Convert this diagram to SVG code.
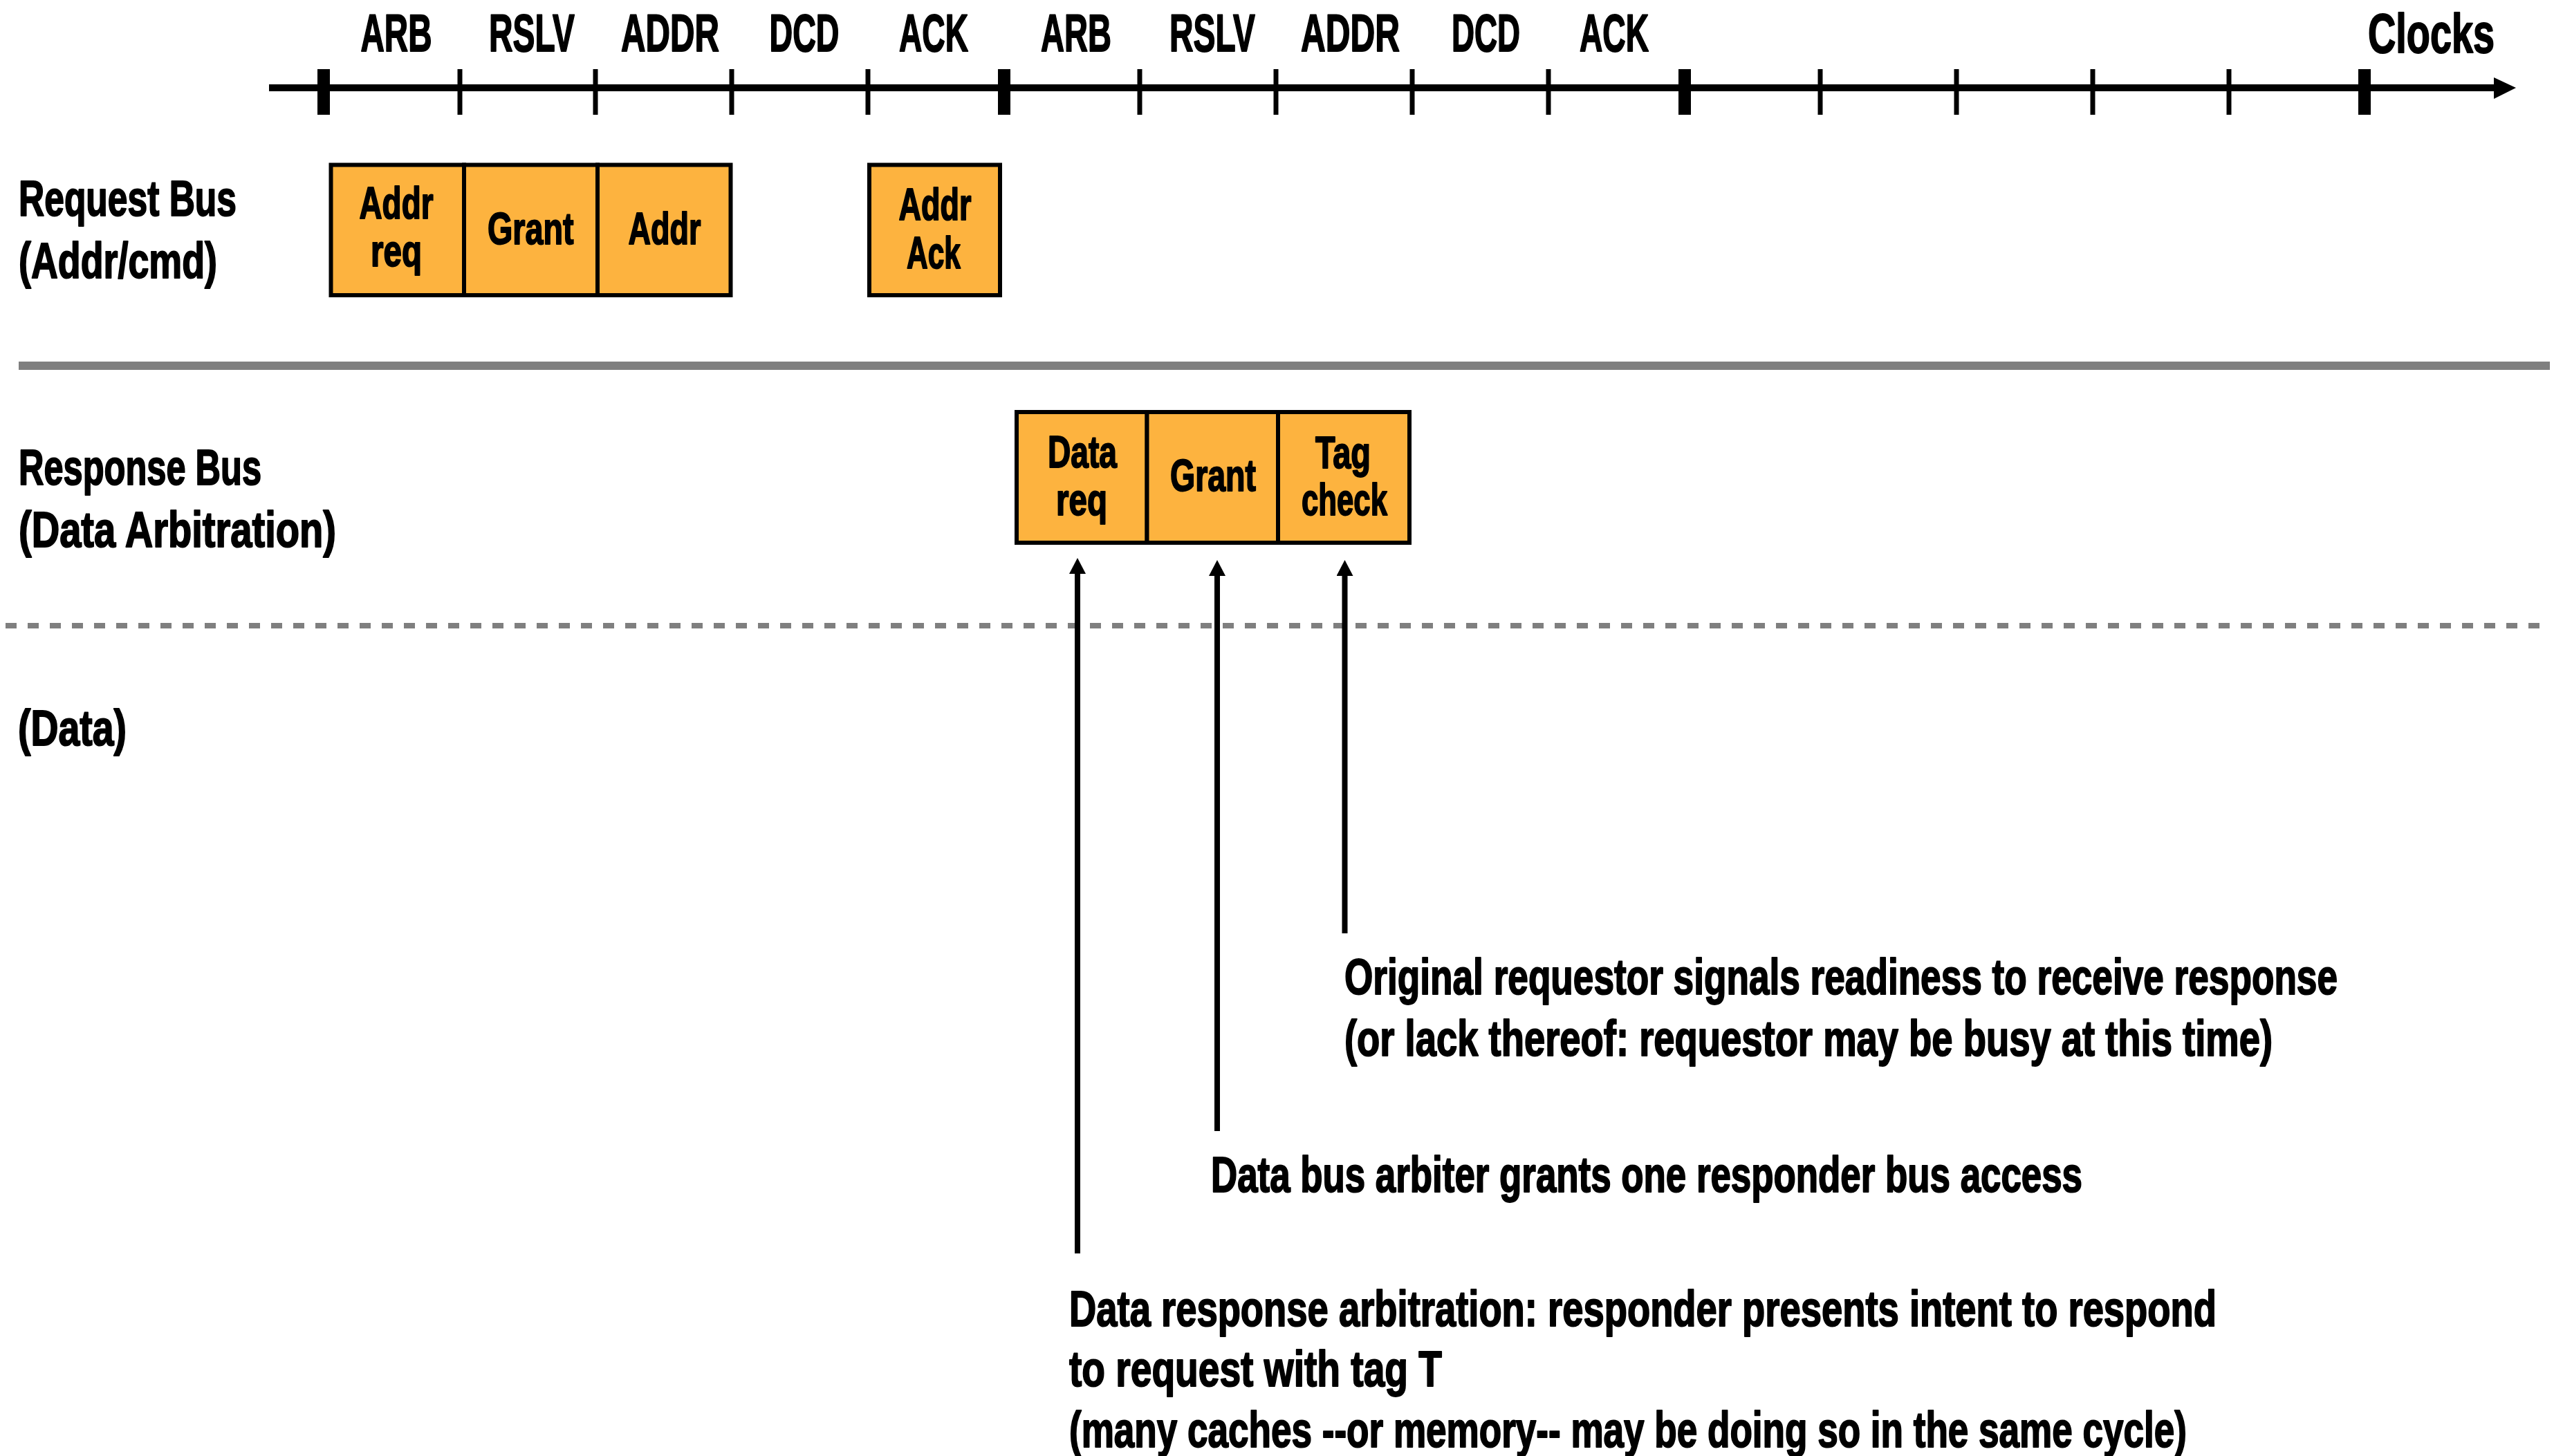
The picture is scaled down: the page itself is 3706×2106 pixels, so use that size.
<svg xmlns="http://www.w3.org/2000/svg" width="3706" height="2106" viewBox="0 0 3706 2106">
<style>
text{font-family:"Liberation Sans Narrow","Liberation Sans",Arial,sans-serif;font-weight:700;fill:#000;stroke:#000;stroke-width:2;stroke-linejoin:round}
.lbl{font-size:76px}
.side{font-size:72px}
.box{font-size:64px}
.note{font-size:72px}
.cell{fill:#FDB33F;stroke:#000;stroke-width:6}
.tick{stroke:#000;stroke-width:7}
.tickb{stroke:#000;stroke-width:18}
.conn{stroke:#000;stroke-width:8;fill:none}
</style>
<defs>
<marker id="ah" markerUnits="userSpaceOnUse" markerWidth="24" markerHeight="24" viewBox="0 0 23 24" refX="0" refY="12" orient="auto">
<path d="M0,0 L23,12 L0,24 z" fill="#000"/>
</marker>
</defs>
<rect width="3706" height="2106" fill="#fff"/>

<g id="timeline">
<line x1="389" y1="127" x2="3610" y2="127" stroke="#000" stroke-width="10"/>
<polygon points="3606,112 3638,127 3606,143" fill="#000"/>
<line class="tickb" x1="468" y1="100" x2="468" y2="166"/>
<line class="tick" x1="665" y1="100" x2="665" y2="166"/>
<line class="tick" x1="861" y1="100" x2="861" y2="166"/>
<line class="tick" x1="1058" y1="100" x2="1058" y2="166"/>
<line class="tick" x1="1255" y1="100" x2="1255" y2="166"/>
<line class="tickb" x1="1452" y1="100" x2="1452" y2="166"/>
<line class="tick" x1="1648" y1="100" x2="1648" y2="166"/>
<line class="tick" x1="1845" y1="100" x2="1845" y2="166"/>
<line class="tick" x1="2042" y1="100" x2="2042" y2="166"/>
<line class="tick" x1="2239" y1="100" x2="2239" y2="166"/>
<line class="tickb" x1="2436" y1="100" x2="2436" y2="166"/>
<line class="tick" x1="2632" y1="100" x2="2632" y2="166"/>
<line class="tick" x1="2829" y1="100" x2="2829" y2="166"/>
<line class="tick" x1="3026" y1="100" x2="3026" y2="166"/>
<line class="tick" x1="3223" y1="100" x2="3223" y2="166"/>
<line class="tickb" x1="3419" y1="100" x2="3419" y2="166"/>
<text class="lbl" x="521.5" y="74" textLength="103" lengthAdjust="spacingAndGlyphs">ARB</text>
<text class="lbl" x="707" y="74" textLength="124" lengthAdjust="spacingAndGlyphs">RSLV</text>
<text class="lbl" x="898" y="74" textLength="142" lengthAdjust="spacingAndGlyphs">ADDR</text>
<text class="lbl" x="1112.5" y="74" textLength="101" lengthAdjust="spacingAndGlyphs">DCD</text>
<text class="lbl" x="1300" y="74" textLength="100" lengthAdjust="spacingAndGlyphs">ACK</text>
<text class="lbl" x="1505" y="74" textLength="102" lengthAdjust="spacingAndGlyphs">ARB</text>
<text class="lbl" x="1691" y="74" textLength="124" lengthAdjust="spacingAndGlyphs">RSLV</text>
<text class="lbl" x="1881" y="74" textLength="143" lengthAdjust="spacingAndGlyphs">ADDR</text>
<text class="lbl" x="2099" y="74" textLength="99" lengthAdjust="spacingAndGlyphs">DCD</text>
<text class="lbl" x="2284" y="74" textLength="100" lengthAdjust="spacingAndGlyphs">ACK</text>
<text x="3424" y="76" font-size="80" textLength="183" lengthAdjust="spacingAndGlyphs">Clocks</text>
</g>

<g id="separators">
<line x1="27" y1="529" x2="3687" y2="529" stroke="#7F7F7F" stroke-width="12"/>
<line x1="8" y1="905" x2="3680" y2="905" stroke="#7F7F7F" stroke-width="8" stroke-dasharray="16 16"/>
</g>

<g id="labels">
<text class="side" x="27" y="312" textLength="315" lengthAdjust="spacingAndGlyphs">Request Bus</text>
<text class="side" x="27" y="402" textLength="287" lengthAdjust="spacingAndGlyphs">(Addr/cmd)</text>
<text class="side" x="27" y="701" textLength="351" lengthAdjust="spacingAndGlyphs">Response Bus</text>
<text class="side" x="27" y="791" textLength="459" lengthAdjust="spacingAndGlyphs">(Data Arbitration)</text>
<text class="side" x="26" y="1078" textLength="157" lengthAdjust="spacingAndGlyphs">(Data)</text>
</g>

<g id="req-addr-req">
<rect class="cell" x="478.5" y="238.5" width="192.5" height="188.5"/>
<text class="box" x="519.5" y="316" textLength="107" lengthAdjust="spacingAndGlyphs">Addr</text>
<text class="box" x="536" y="385" textLength="74" lengthAdjust="spacingAndGlyphs">req</text>
</g>
<g id="req-grant">
<rect class="cell" x="671" y="238.5" width="193" height="188.5"/>
<text class="box" x="705" y="353" textLength="124.5" lengthAdjust="spacingAndGlyphs">Grant</text>
</g>
<g id="req-addr">
<rect class="cell" x="864" y="238.5" width="192.5" height="188.5"/>
<text class="box" x="908.5" y="353" textLength="105" lengthAdjust="spacingAndGlyphs">Addr</text>
</g>
<g id="req-addr-ack">
<rect class="cell" x="1257" y="238.5" width="189" height="188.5"/>
<text class="box" x="1299.5" y="318" textLength="105" lengthAdjust="spacingAndGlyphs">Addr</text>
<text class="box" x="1311" y="388" textLength="78" lengthAdjust="spacingAndGlyphs">Ack</text>
</g>

<g id="resp-data-req">
<rect class="cell" x="1470" y="596" width="188.5" height="189"/>
<text class="box" x="1515" y="676" textLength="100" lengthAdjust="spacingAndGlyphs">Data</text>
<text class="box" x="1527" y="745" textLength="74" lengthAdjust="spacingAndGlyphs">req</text>
</g>
<g id="resp-grant">
<rect class="cell" x="1658.5" y="596" width="189.5" height="189"/>
<text class="box" x="1692" y="710" textLength="124" lengthAdjust="spacingAndGlyphs">Grant</text>
</g>
<g id="resp-tag-check">
<rect class="cell" x="1848" y="596" width="190" height="189"/>
<text class="box" x="1902" y="677" textLength="80" lengthAdjust="spacingAndGlyphs">Tag</text>
<text class="box" x="1882" y="745" textLength="124" lengthAdjust="spacingAndGlyphs">check</text>
</g>

<g id="connectors">
<line class="conn" x1="1558" y1="1813" x2="1558" y2="830" marker-end="url(#ah)"/>
<line class="conn" x1="1760" y1="1636" x2="1760" y2="833" marker-end="url(#ah)"/>
<line class="conn" x1="1944.5" y1="1350" x2="1944.5" y2="833" marker-end="url(#ah)"/>
</g>

<g id="note-tag">
<text class="note" x="1944" y="1438" textLength="1436" lengthAdjust="spacingAndGlyphs">Original requestor signals readiness to receive response</text>
<text class="note" x="1944" y="1527" textLength="1342" lengthAdjust="spacingAndGlyphs">(or lack thereof: requestor may be busy at this time)</text>
</g>
<g id="note-grant">
<text class="note" x="1751" y="1724" textLength="1260" lengthAdjust="spacingAndGlyphs">Data bus arbiter grants one responder bus access</text>
</g>
<g id="note-req">
<text class="note" x="1546" y="1918" textLength="1659" lengthAdjust="spacingAndGlyphs">Data response arbitration: responder presents intent to respond</text>
<text class="note" x="1546" y="2005" textLength="539" lengthAdjust="spacingAndGlyphs">to request with tag T</text>
<text class="note" x="1546" y="2093" textLength="1616" lengthAdjust="spacingAndGlyphs">(many caches --or memory-- may be doing so in the same cycle)</text>
</g>
</svg>
